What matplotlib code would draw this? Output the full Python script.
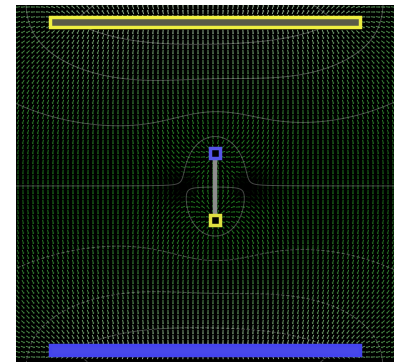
import numpy as np
import matplotlib.pyplot as plt
from matplotlib.patches import Rectangle

# plates: top one positive (yellow), bottom one negative (blue); y grows downward
plate_x = [50, 360]
plate_top_y = 22
plate_bottom_y = 350
plate_charge = 1.0
# dipole: negative end (blue) above, positive end (yellow) below
dipole_x = 215
dipole_neg_y = 153
dipole_pos_y = 220
dipole_charge = 0.30

n_seg = 80
seg_x = np.linspace(plate_x[0], plate_x[1], n_seg)
qx = np.concatenate([seg_x, seg_x, [dipole_x, dipole_x]])
qy = np.concatenate([np.full(n_seg, plate_top_y), np.full(n_seg, plate_bottom_y),
                     [dipole_neg_y, dipole_pos_y]])
qq = np.concatenate([np.full(n_seg, plate_charge / n_seg), np.full(n_seg, -plate_charge / n_seg),
                     [-dipole_charge, dipole_charge]])


def field(X, Y):
    dx = X[..., None] - qx
    dy = Y[..., None] - qy
    r2 = dx**2 + dy**2 + 4.0
    V = -(qq * 0.5 * np.log(r2)).sum(-1)
    Ex = (qq * dx / r2).sum(-1)
    Ey = (qq * dy / r2).sum(-1)
    return V, Ex, Ey


fig = plt.figure(figsize=(3.98, 3.63), dpi=100)
ax = fig.add_axes([16 / 398, 1 / 363, 378 / 398, 357 / 363])
ax.set_facecolor('black')

# field arrows on a 5 px grid
gx, gy = np.meshgrid(np.arange(18, 394, 5.0), np.arange(7, 362, 5.0))
V, Ex, Ey = field(gx, gy)
E = np.hypot(Ex, Ey)
_, e0x, e0y = field(np.array([40.0]), np.array([186.0]))
E0 = np.hypot(e0x, e0y)[0]
e = np.clip(E / E0, 0, 1) ** 1.8
v = np.clip(np.abs(V) / 1.9, 0, 1) ** 1.6
green = np.array([0.12, 0.48, 0.12])
white = np.array([0.80, 0.80, 0.78])
cols = (e[..., None] * green) * (1 - v[..., None]) + white[None, None, :] * v[..., None] * np.maximum(e, 0.4)[..., None]
cols = np.clip(cols, 0, 1).reshape(-1, 3)
L = 4.4
ux = (Ex / E * L).ravel()
uy = (Ey / E * L).ravel()
ax.quiver(gx.ravel(), gy.ravel(), ux, uy, color=cols, angles='xy', scale_units='xy', scale=1,
          pivot='middle', width=0.0024, headwidth=2.5, headlength=1.5, headaxislength=1.4)

# equipotential lines
cx, cy = np.meshgrid(np.linspace(16, 394, 300), np.linspace(5, 362, 300))
CV, _, _ = field(cx, cy)
ax.contour(cx, cy, CV, levels=np.linspace(-2.25, 2.25, 11), colors='#c8c8c8', linewidths=0.7, alpha=0.35)

# plates
ax.add_patch(Rectangle((plate_x[0], plate_top_y - 5), plate_x[1] - plate_x[0], 10,
                       fc='#5a5a48', ec='#eeee40', lw=2.5, zorder=5))
ax.add_patch(Rectangle((plate_x[0], plate_bottom_y - 5), plate_x[1] - plate_x[0], 10,
                       fc='#4848ea', ec='#4444ee', lw=2.5, zorder=5))

# dipole
ax.plot([dipole_x, dipole_x], [dipole_neg_y, dipole_pos_y], color='#8c8c8c', lw=3.2, zorder=5)
ax.add_patch(Rectangle((dipole_x - 5, dipole_neg_y - 5), 10, 10, fc='black', ec='#5555e8', lw=2.5, zorder=6))
ax.add_patch(Rectangle((dipole_x - 5, dipole_pos_y - 5), 10, 10, fc='black', ec='#e0e040', lw=2.5, zorder=6))

ax.set_xlim(16, 394)
ax.set_ylim(362, 5)
ax.set_xticks([])
ax.set_yticks([])
for s in ax.spines.values():
    s.set_visible(False)

fig.savefig('out.png', dpi=100, facecolor='white')
